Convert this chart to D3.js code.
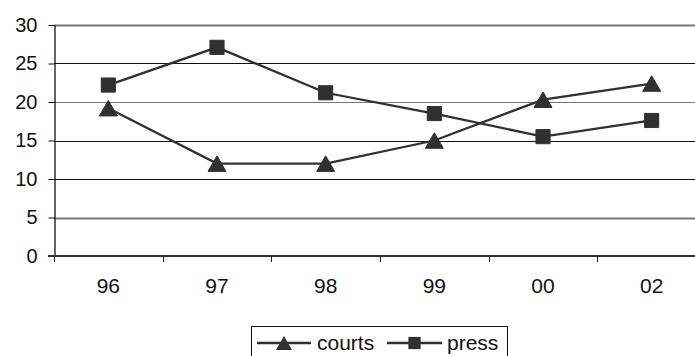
<!DOCTYPE html>
<html>
<head>
<meta charset="utf-8">
<script src="https://cdn.jsdelivr.net/npm/d3@7"></script>
<style>
  html, body { margin: 0; padding: 0; background: #fff; overflow: hidden; }
  svg { display: block; font-family: "Liberation Sans", Arial, sans-serif; }
</style>
</head>
<body>
<svg id="chart" width="695" height="356"></svg>
<script>
// Years on the category axis
const years = ["96", "97", "98", "99", "00", "02"];
// Series values
const courts = [19.2, 12.0, 12.0, 15.0, 20.3, 22.4];
const press = [22.2, 27.1, 21.2, 18.5, 15.5, 17.6];
// Value axis ticks
const yTicks = [0, 5, 10, 15, 20, 25, 30];

const svg = d3.select("#chart");
const plotLeft = 54, plotTop = 25, plotBottom = 256, plotRight = 706;
const ink = "#303030";

const x = d3.scaleBand().domain(years).range([plotLeft, plotRight]);
const y = d3.scaleLinear().domain([0, 30]).range([plotBottom, plotTop]);

// Horizontal gridlines
svg.append("g")
  .selectAll("line")
  .data(yTicks.filter(d => d > 0))
  .join("line")
  .attr("x1", plotLeft).attr("x2", 695)
  .attr("y1", d => Math.round(y(d)) + 0.5).attr("y2", d => Math.round(y(d)) + 0.5)
  .attr("stroke", d => (d === 30 || d === 5 || d === 20) ? "#777" : "#111")
  .attr("stroke-width", d => (d === 30 || d === 5) ? 2 : 1);

// Value axis
const yAxis = svg.append("g")
  .attr("transform", `translate(${plotLeft + 0.5},0)`)
  .call(d3.axisLeft(y).tickValues(yTicks).tickSize(6).tickPadding(11).tickSizeOuter(0));
yAxis.select(".domain").attr("stroke", "#111").attr("stroke-width", 1.3);
yAxis.selectAll(".tick line").attr("stroke", "#111");
yAxis.selectAll(".tick text").attr("font-size", 20).attr("fill", "#111")
  .attr("font-family", "Liberation Sans, Arial, sans-serif");

// Category axis with ticks between categories
const xAxisG = svg.append("g").attr("transform", `translate(0,${plotBottom})`);
xAxisG.append("line")
  .attr("x1", plotLeft - 6).attr("x2", 695)
  .attr("y1", 0).attr("y2", 0)
  .attr("stroke", "#333").attr("stroke-width", 2);
xAxisG.selectAll("line.tk")
  .data(years)
  .join("line")
  .attr("class", "tk")
  .attr("x1", d => Math.round(x(d)) + 0.5).attr("x2", d => Math.round(x(d)) + 0.5)
  .attr("y1", 0).attr("y2", 6)
  .attr("stroke", "#222");
xAxisG.selectAll("text")
  .data(years)
  .join("text")
  .attr("x", d => x(d) + x.bandwidth() / 2)
  .attr("y", 37)
  .attr("text-anchor", "middle")
  .attr("font-size", 21)
  .attr("fill", "#111")
  .text(d => d);

const cx = d => x(d) + x.bandwidth() / 2;
const line = d3.line().x(d => cx(d.year)).y(d => y(d.v));

// Triangles are nudged so their box, not their centroid, sits on the point
function symbolOffset(type, size) {
  return type === d3.symbolTriangle ? Math.sqrt(size / (3 * Math.sqrt(3))) / 2 : 0;
}

function draw(values, symbolType, size) {
  const pts = years.map((yr, i) => ({ year: yr, v: values[i] }));
  const dy = symbolOffset(symbolType, size);
  svg.append("path")
    .datum(pts)
    .attr("d", line)
    .attr("fill", "none")
    .attr("stroke", ink)
    .attr("stroke-width", 2.3);
  svg.append("g")
    .selectAll("path")
    .data(pts)
    .join("path")
    .attr("transform", d => `translate(${cx(d.year)},${y(d.v) + dy})`)
    .attr("d", d3.symbol().type(symbolType).size(size))
    .attr("fill", ink)
    .attr("stroke", ink)
    .attr("stroke-width", 1)
    .attr("stroke-linejoin", "round");
}

draw(courts, d3.symbolTriangle, 140);
draw(press, d3.symbolSquare, 200);

// Legend
const lg = svg.append("g");
lg.append("rect")
  .attr("x", 251.5).attr("y", 326.5)
  .attr("width", 256).attr("height", 40)
  .attr("fill", "#fff").attr("stroke", "#111").attr("stroke-width", 1);

const legendItems = [
  { name: "courts", sym: d3.symbolTriangle, size: 110, x0: 257, x1: 311, tx: 317 },
  { name: "press", sym: d3.symbolSquare, size: 150, x0: 387, x1: 442, tx: 447 }
];
legendItems.forEach(it => {
  lg.append("line")
    .attr("x1", it.x0).attr("x2", it.x1)
    .attr("y1", 343).attr("y2", 343)
    .attr("stroke", ink).attr("stroke-width", 2.3);
  lg.append("path")
    .attr("transform", `translate(${(it.x0 + it.x1) / 2},${343 + symbolOffset(it.sym, it.size)})`)
    .attr("d", d3.symbol().type(it.sym).size(it.size))
    .attr("fill", ink);
  lg.append("text")
    .attr("x", it.tx).attr("y", 350)
    .attr("font-size", 21)
    .attr("fill", "#111")
    .text(it.name);
});
</script>
</body>
</html>
